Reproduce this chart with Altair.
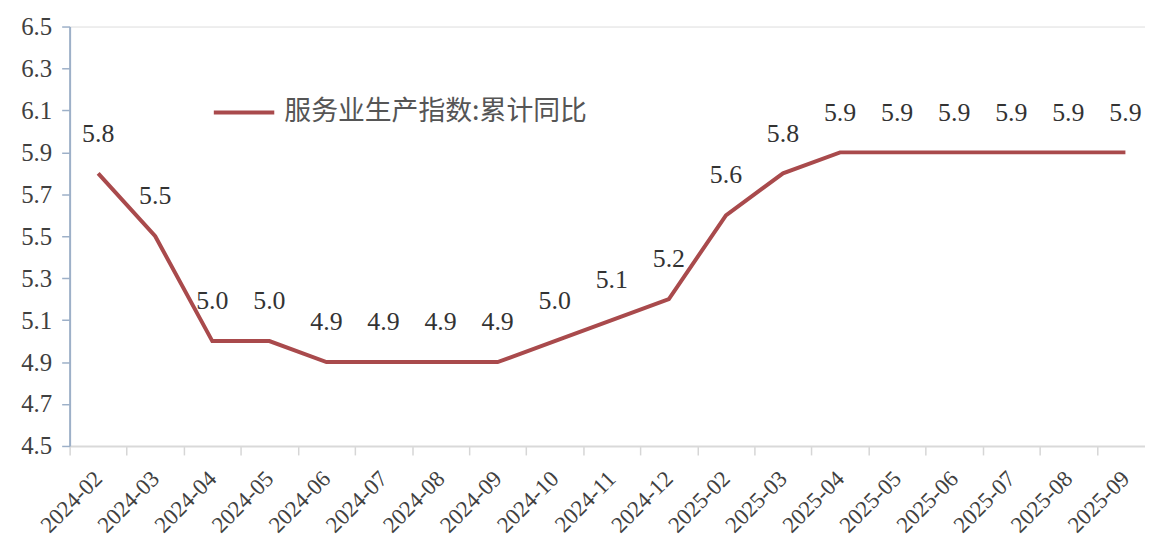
import altair as alt
import pandas as pd

months = ["2024-02", "2024-03", "2024-04", "2024-05", "2024-06", "2024-07",
          "2024-08", "2024-09", "2024-10", "2024-11", "2024-12", "2025-02",
          "2025-03", "2025-04", "2025-05", "2025-06", "2025-07", "2025-08",
          "2025-09"]
values = [5.8, 5.5, 5.0, 5.0, 4.9, 4.9, 4.9, 4.9, 5.0, 5.1, 5.2, 5.6,
          5.8, 5.9, 5.9, 5.9, 5.9, 5.9, 5.9]
series_name = "服务业生产指数:累计同比"
y_ticks = [4.5, 4.7, 4.9, 5.1, 5.3, 5.5, 5.7, 5.9, 6.1, 6.3, 6.5]

LINE_COLOR = "#A94A4C"
NUM_FONT = "Liberation Serif"
CJK_FONT = "Noto Sans CJK SC"

df = pd.DataFrame({"month": months, "value": values, "series": series_name})

x_enc = alt.X(
    "month:N",
    sort=months,
    scale=alt.Scale(type="band", paddingInner=0, paddingOuter=0, range=[0, 1091]),
    axis=alt.Axis(
        title=None,
        labelAngle=-45,
        labelAlign="right",
        labelBaseline="middle",
        labelFont=NUM_FONT,
        labelFontSize=23,
        labelColor="#404040",
        labelPadding=20,
        tickBand="extent",
        tickColor="#d6d6d6",
        tickSize=9,
        tickWidth=1.5,
        domainColor="#d9d9d9",
        domainWidth=2,
        grid=False,
    ),
)

y_enc = alt.Y(
    "value:Q",
    scale=alt.Scale(domain=[4.5, 6.5], nice=False, zero=False),
    axis=alt.Axis(
        title=None,
        values=y_ticks,
        format=".1f",
        labelFont=NUM_FONT,
        labelFontSize=25,
        labelColor="#404040",
        labelPadding=10,
        tickColor="#9db0c8",
        tickSize=8,
        tickWidth=1.5,
        domainColor="#9db0c8",
        domainWidth=2,
        grid=False,
    ),
)

base = alt.Chart(df).encode(x=x_enc, y=y_enc)

line = base.mark_line(strokeWidth=4).encode(
    color=alt.Color(
        "series:N",
        scale=alt.Scale(domain=[series_name], range=[LINE_COLOR]),
        legend=alt.Legend(
            title=None,
            orient="none",
            legendX=143,
            legendY=54,
            symbolType="stroke",
            symbolSize=3700,
            symbolStrokeWidth=4,
            labelFont=CJK_FONT,
            labelFontSize=27,
            labelColor="#555555",
            labelOffset=8,
            labelLimit=0,
            padding=0,
        ),
    ),
)

labels = base.mark_text(
    dy=-40, fontSize=26, font=NUM_FONT, color="#333333", baseline="middle"
).encode(
    text=alt.Text("value:Q", format=".1f"),
)

chart = alt.layer(line, labels).properties(
    width=1082,
    height=422,
    padding={"left": 62, "top": 17, "right": 0, "bottom": 100},
    autosize=alt.AutoSizeParams(type="none"),
).configure_view(stroke=None).configure(background="white").configure_axis(
    labelFont=NUM_FONT
)

chart.save("out.html", embed_options={"renderer": "svg", "actions": False})
